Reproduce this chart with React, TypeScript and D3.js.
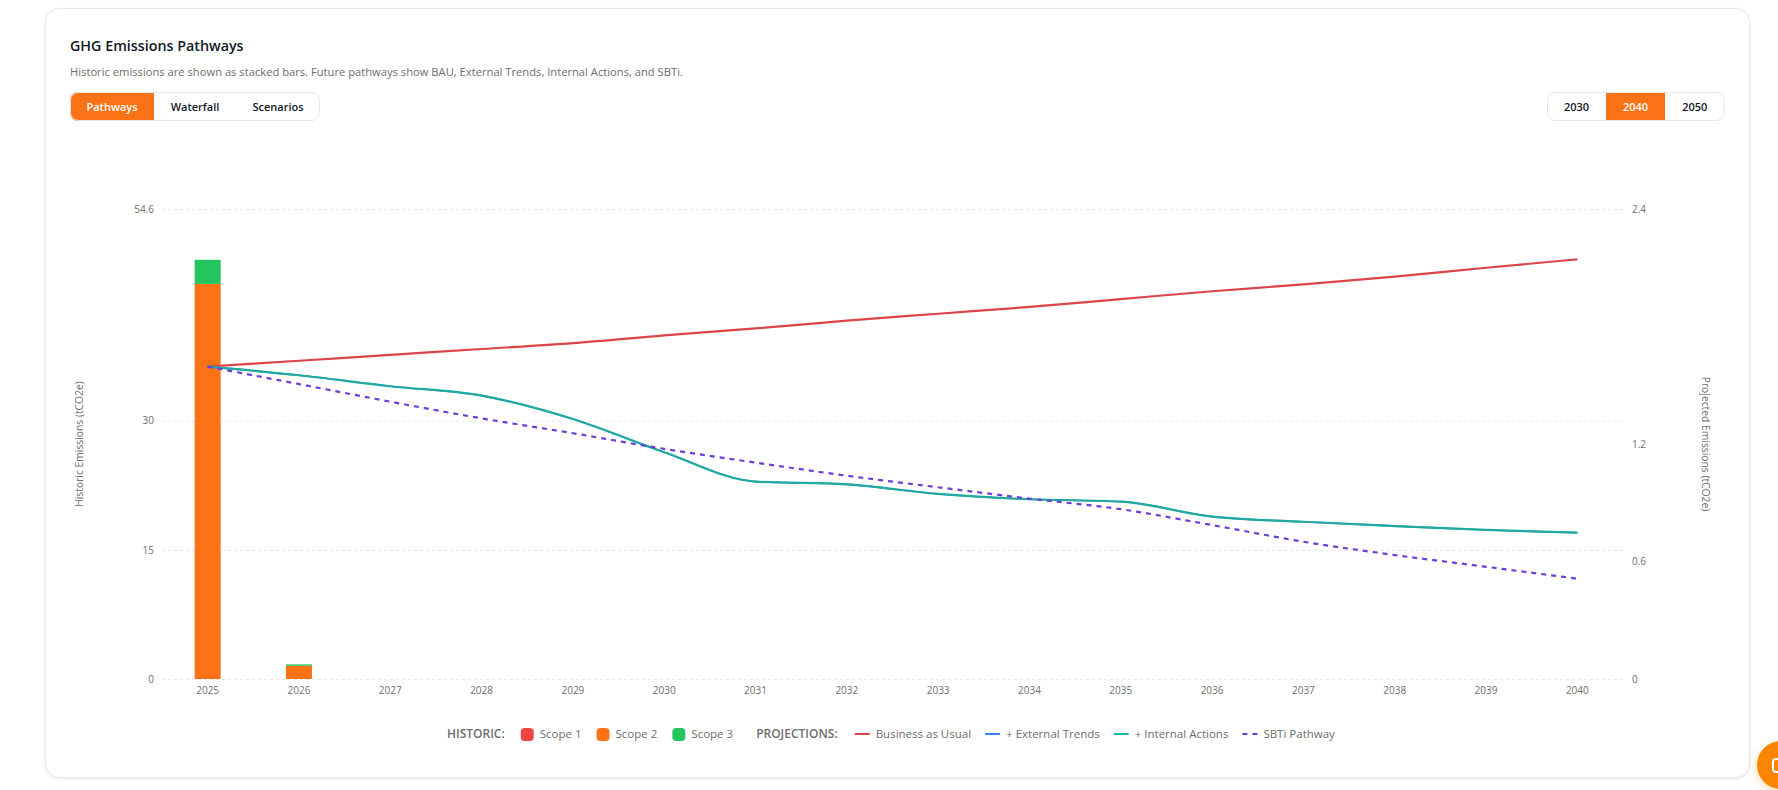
import React, { useEffect, useRef } from 'react';
import * as d3 from 'd3';

const years = ['2025','2026','2027','2028','2029','2030','2031','2032','2033','2034','2035','2036','2037','2038','2039','2040'];

// historic, tCO2e
const scope1 = [0,0,0,0,0,0,0,0,0,0,0,0,0,0,0,0];
const scope2 = [45.9,1.55,0,0,0,0,0,0,0,0,0,0,0,0,0,0];
const scope3 = [2.8,0.15,0,0,0,0,0,0,0,0,0,0,0,0,0,0];

// projected, tCO2e
const bau = [1.595,1.625,1.655,1.685,1.715,1.755,1.79,1.83,1.865,1.9,1.94,1.98,2.015,2.055,2.1,2.143];
const externalTrends = [1.595,1.551,1.495,1.447,1.328,1.158,1.008,0.994,0.945,0.918,0.906,0.829,0.803,0.781,0.761,0.747];
const internalActions = [1.595,1.551,1.495,1.447,1.328,1.158,1.008,0.994,0.945,0.918,0.906,0.829,0.803,0.781,0.761,0.747];
const sbti = [1.595,1.506,1.416,1.331,1.255,1.175,1.105,1.038,0.979,0.921,0.867,0.786,0.701,0.633,0.573,0.512];

const leftTicks = [0,15,30,54.6];
const rightTicks = [0,0.6,1.2,2.4];
const viewTabs = ['Pathways','Waterfall','Scenarios'];
const yearTabs = ['2030','2040','2050'];

const FONT = '"Open Sans", sans-serif';
const ORANGE = '#f97316';
const RED = '#dc4449';
const BLUE = '#3b82f6';
const TEAL = '#14b8a6';
const TEAL_LINE = '#1fa99f';
const PURPLE = '#6d3fd6';
const GREY = '#6e6e6e';

function tabGroup(svg: any, id: string, labels: string[], active: number, x0: number, widths: number[]) {
	const y = 92, h = 29, total = d3.sum(widths);
	svg.append('clipPath').attr('id', id).append('rect')
		.attr('x', x0).attr('y', y).attr('width', total).attr('height', h).attr('rx', 8);
	const g = svg.append('g').attr('clip-path', 'url(#' + id + ')');
	let x = x0;
	labels.forEach((label, i) => {
		if (i === active) g.append('rect').attr('x', x).attr('y', y).attr('width', widths[i]).attr('height', h).attr('fill', ORANGE);
		svg.append('text').text(label)
			.attr('x', x + widths[i] / 2).attr('y', y + h / 2 + 4)
			.attr('text-anchor', 'middle').attr('font-size', 11).attr('font-weight', 600)
			.attr('fill', i === active ? '#fff' : '#111827');
		x += widths[i];
	});
	svg.append('rect').attr('x', x0 + 0.5).attr('y', y + 0.5).attr('width', total - 1).attr('height', h - 1)
		.attr('rx', 8).attr('fill', 'none').attr('stroke', '#e5e7eb');
}

const App = () => {
	const ref = useRef<SVGSVGElement>(null);
	useEffect(() => {
		const svg = d3.select(ref.current);
		svg.selectAll('*').remove();
		svg.attr('font-family', FONT);

		const defs = svg.append('defs');
		const shadow = defs.append('filter').attr('id', 'card').attr('x', '-2%').attr('y', '-2%').attr('width', '104%').attr('height', '105%');
		shadow.append('feDropShadow').attr('dx', 0).attr('dy', 1).attr('stdDeviation', 1.5).attr('flood-color', '#000').attr('flood-opacity', 0.1);
		const glow = defs.append('filter').attr('id', 'glow').attr('x', '-50%').attr('y', '-50%').attr('width', '200%').attr('height', '200%');
		glow.append('feDropShadow').attr('dx', 0).attr('dy', 3).attr('stdDeviation', 5).attr('flood-color', '#ff8a00').attr('flood-opacity', 0.3);

		// card
		svg.append('rect').attr('x', 45.5).attr('y', 8.5).attr('width', 1704).attr('height', 769).attr('rx', 14)
			.attr('fill', '#fff').attr('stroke', '#e5e7eb').attr('filter', 'url(#card)');

		svg.append('text').text('GHG Emissions Pathways').attr('x', 70).attr('y', 51)
			.attr('font-size', 14.3).attr('font-weight', 600).attr('fill', '#111827');
		svg.append('text').text('Historic emissions are shown as stacked bars. Future pathways show BAU, External Trends, Internal Actions, and SBTi.')
			.attr('x', 70).attr('y', 75.5).attr('font-size', 11.2).attr('fill', GREY);

		tabGroup(svg, 'viewTabs', viewTabs, 0, 70, [84, 82, 84]);
		tabGroup(svg, 'yearTabs', yearTabs, 1, 1547, [59, 59, 59.5]);

		// scales
		const x = d3.scaleBand().domain(years).range([162, 1623]);
		const yLeft = d3.scaleLinear().domain([0, 54.6]).range([679, 209]);
		const yRight = d3.scaleLinear().domain([0, 2.4]).range([679, 209]);
		const barWidth = 26;
		const cx = (i: number) => (x(years[i]) as number) + x.bandwidth() / 2;

		// axes
		const left = svg.append('g').attr('transform', 'translate(162,0)')
			.call(d3.axisLeft(yLeft).tickValues(leftTicks).tickFormat((d: any) => String(d)).tickSizeInner(-1461).tickSizeOuter(0).tickPadding(8) as any);
		const right = svg.append('g').attr('transform', 'translate(1623,0)')
			.call(d3.axisRight(yRight).tickValues(rightTicks).tickFormat((d: any) => String(d)).tickSize(0).tickPadding(9) as any);
		const bottom = svg.append('g').attr('transform', 'translate(0,679)')
			.call(d3.axisBottom(x).tickSize(0).tickPadding(8) as any);
		[left, right, bottom].forEach((a) => {
			a.select('.domain').remove();
			a.attr('font-family', FONT).attr('font-size', 10);
			a.selectAll('text').attr('fill', GREY);
		});
		left.selectAll('line').attr('stroke', '#e5e7eb').attr('stroke-dasharray', '3 3');

		svg.append('text').text('Historic Emissions (tCO2e)')
			.attr('transform', 'translate(83,444) rotate(-90)').attr('text-anchor', 'middle')
			.attr('font-size', 10.3).attr('fill', GREY);
		svg.append('text').text('Projected Emissions (tCO2e)')
			.attr('transform', 'translate(1702,444) rotate(90)').attr('text-anchor', 'middle')
			.attr('font-size', 10.3).attr('fill', GREY);

		// stacked bars
		const rows = years.map((year, i) => ({ year, scope1: scope1[i], scope2: scope2[i], scope3: scope3[i] }));
		const stack = d3.stack<any>().keys(['scope1', 'scope2', 'scope3'])(rows);
		const barColor = d3.scaleOrdinal<string>().domain(['scope1', 'scope2', 'scope3']).range(['#ef4444', ORANGE, '#22c55e']);
		svg.append('g').selectAll('g').data(stack).enter().append('g')
			.attr('fill', (s: any) => barColor(s.key))
			.selectAll('rect').data((s: any) => s).enter().append('rect')
			.attr('x', (d: any) => (x(d.data.year) as number) + x.bandwidth() / 2 - barWidth / 2)
			.attr('width', barWidth)
			.attr('y', (d: any) => yLeft(d[1]))
			.attr('height', (d: any) => yLeft(d[0]) - yLeft(d[1]));

		// pathway lines
		const line = d3.line<number>().x((_, i) => cx(i)).y((d) => yRight(d)).curve(d3.curveMonotoneX);
		const drawLine = (values: number[], color: string, dash?: string, width = 2.2) => {
			svg.append('path').attr('d', line(values)).attr('fill', 'none')
				.attr('stroke', color).attr('stroke-width', width)
				.attr('stroke-dasharray', dash || null);
		};
		drawLine(bau, RED);
		// the external trends line sits exactly under internal actions
		drawLine(externalTrends, BLUE, undefined, 1.6);
		drawLine(internalActions, TEAL_LINE);
		drawLine(sbti, PURPLE, '5 5');

		// legend, laid out left to right
		const legend = svg.append('g').attr('font-size', 11.5);
		const legendY = 738;
		let lx = 447;
		const addText = (label: string, weight: number) => {
			const t = legend.append('text').text(label).attr('x', lx).attr('y', legendY)
				.attr('fill', GREY).attr('font-weight', weight).attr('font-size', weight > 400 ? 12 : 11.5);
			lx += (t.node() as SVGTextElement).getComputedTextLength();
		};
		addText('HISTORIC:', 600);
		lx += 16;
		[['Scope 1', '#ef4444'], ['Scope 2', ORANGE], ['Scope 3', '#22c55e']].forEach(([label, color]) => {
			legend.append('rect').attr('x', lx).attr('y', legendY - 10).attr('width', 13).attr('height', 13).attr('rx', 4).attr('fill', color);
			lx += 19;
			addText(label, 400);
			lx += 15;
		});
		lx += 8;
		addText('PROJECTIONS:', 600);
		lx += 17;
		[['Business as Usual', RED, null], ['+ External Trends', BLUE, null], ['+ Internal Actions', TEAL, null], ['SBTi Pathway', PURPLE, '5 5']].forEach(([label, color, dash]) => {
			legend.append('line').attr('x1', lx).attr('x2', lx + 15).attr('y1', legendY - 4).attr('y2', legendY - 4)
				.attr('stroke', color as string).attr('stroke-width', 2).attr('stroke-dasharray', dash);
			lx += 21;
			addText(label as string, 400);
			lx += 14;
		});

		// floating help button, cut off by the window edge
		svg.append('circle').attr('cx', 1781).attr('cy', 765).attr('r', 24).attr('fill', '#fb8500').attr('filter', 'url(#glow)');
		svg.append('rect').attr('x', 1773).attr('y', 759).attr('width', 14).attr('height', 13).attr('rx', 3)
			.attr('fill', 'none').attr('stroke', '#fff').attr('stroke-width', 2);
	}, []);
	return <svg ref={ref} width={1778} height={790} style={{ position: 'absolute', left: 0, top: 0, display: 'block' }} />;
};

export default App;
